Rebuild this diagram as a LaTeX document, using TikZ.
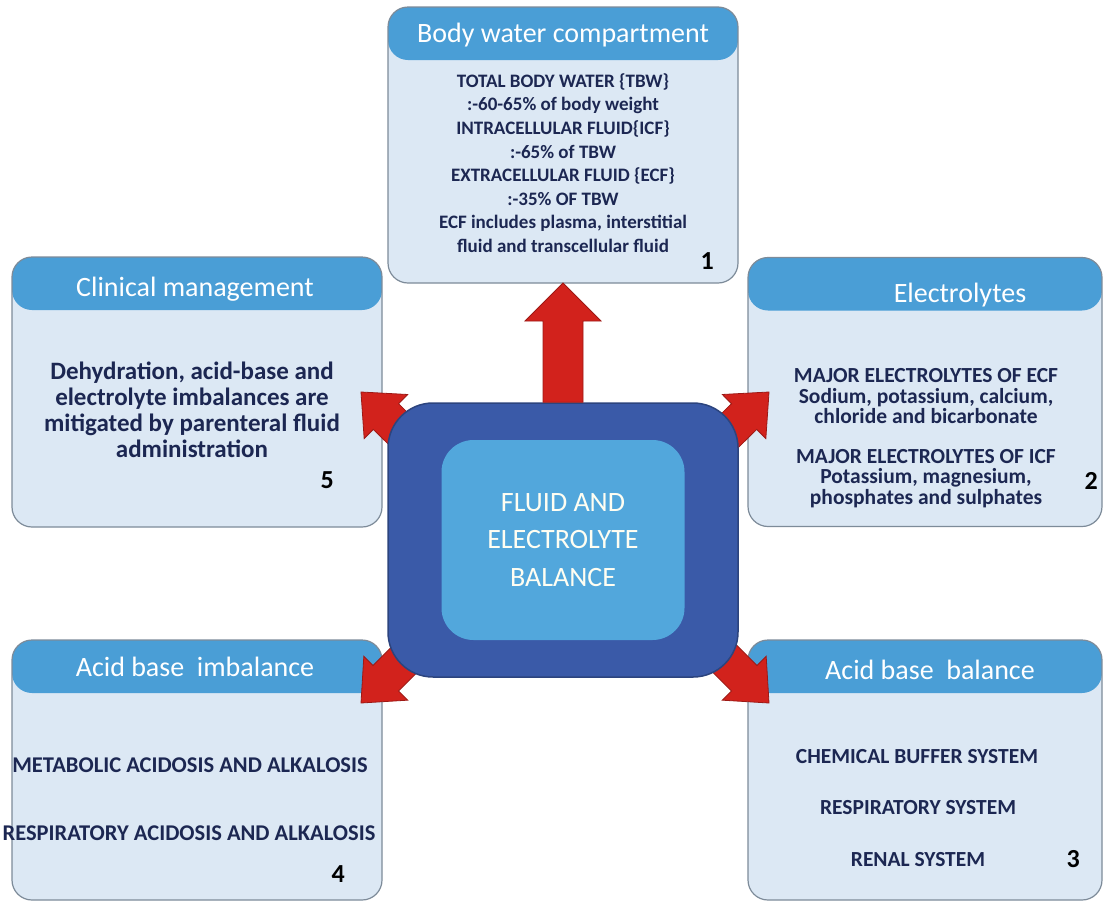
\documentclass[tikz,border=0pt]{standalone}
\usepackage{fontspec}
\setmainfont{Carlito}
\usetikzlibrary{positioning,calc}

\definecolor{headblue}{HTML}{4A9ED6}
\definecolor{paleblue}{HTML}{DCE8F4}
\definecolor{edgegray}{HTML}{7D8B99}
\definecolor{navytext}{HTML}{1C2752}
\definecolor{darkblue}{HTML}{3A5AA8}
\definecolor{midblue}{HTML}{52A7DC}
\definecolor{arrowred}{HTML}{D2221C}

% block arrow: from, to, shaft half width, head half width, head length
\newcommand{\blockarrow}[5]{%
\filldraw[bigarrow] (#2) -- ($(#2)!#5!(#1)!#4!90:(#1)$) -- ($(#2)!#5!(#1)!#3!90:(#1)$)
  -- ($(#1)!#3!-90:(#2)$) -- ($(#1)!#3!90:(#2)$)
  -- ($(#2)!#5!(#1)!#3!-90:(#1)$) -- ($(#2)!#5!(#1)!#4!-90:(#1)$) -- cycle;}

\begin{document}
\begin{tikzpicture}[x=1pt, y=-1pt,
panel/.style={rectangle, rounded corners=20pt, draw=edgegray, line width=1.2pt, fill=paleblue, inner sep=0pt, outer sep=0pt,
  path picture={\fill[headblue] (path picture bounding box.north west) rectangle ([yshift=-53pt]path picture bounding box.north east);}},
headtext/.style={text=white, font=\fontsize{28}{30}\selectfont, inner sep=0pt},
bodytext/.style={align=center, text=navytext, inner sep=0pt},
numtext/.style={text=black, font=\bfseries\fontsize{26}{26}\selectfont, inner sep=0pt},
bigarrow/.style={fill=arrowred, draw=arrowred!75!black, line width=0.8pt, line join=miter},
outerbox/.style={rectangle, rounded corners=45pt, fill=darkblue, draw=darkblue!75!black, line width=1.5pt, minimum width=350pt, minimum height=274pt},
innerbox/.style={rectangle, rounded corners=32pt, fill=midblue, minimum width=243pt, minimum height=200pt, align=center, text=white!95!yellow, font=\fontsize{28}{37.5}\selectfont},
]
\useasboundingbox (0,0) rectangle (1105,908);

%Nodes
\node[panel, minimum width=350pt, minimum height=276pt] (box1) at (563,145) {};
\node[headtext] (title1) at (563,35) {Body water compartment};
\node[bodytext, font=\bfseries\fontsize{19}{23.6}\selectfont] (body1) at (563,163) {TOTAL BODY WATER \{TBW\}\\
        :-60-65\% of body weight\\
        INTRACELLULAR FLUID\{ICF\}\\
        :-65\% of TBW\\
        EXTRACELLULAR FLUID \{ECF\}\\
        :-35\% OF TBW\\
        ECF includes plasma, interstitial\\
        fluid and transcellular fluid};
\node[numtext] (num1) [above left=13pt and 24pt of box1.south east] {1};

\node[panel, minimum width=370pt, minimum height=270pt] (box5) at (197,392) {};
\node[headtext] (title5) at (195,289) {Clinical management};
\node[bodytext, font=\bfseries\fontsize{25}{26}\selectfont] (body5) at (192,410) {Dehydration, acid-base and\\
        electrolyte imbalances are\\
        mitigated by parenteral fluid\\
        administration};
\node[numtext] (num5) [above left=38pt and 48pt of box5.south east] {5};

\node[panel, minimum width=354pt, minimum height=269pt] (box2) at (925,392) {};
\node[headtext] (title2) at (960,295) {Electrolytes};
\node[bodytext, font=\bfseries\fontsize{21.5}{20.5}\selectfont] (body2) at (926,438) {MAJOR ELECTROLYTES OF ECF\\
        Sodium, potassium, calcium,\\
        chloride and bicarbonate\\[19pt]
        MAJOR ELECTROLYTES OF ICF\\
        Potassium, magnesium,\\
        phosphates and sulphates};
\node[numtext] (num2) [above left=37pt and 4pt of box2.south east] {2};

\node[panel, minimum width=370pt, minimum height=260pt] (box4) at (197,770) {};
\node[headtext] (title4) at (195,667) {Acid base\ \ imbalance};
\node[bodytext, font=\bfseries\fontsize{22.5}{22}\selectfont] (meta) at (190,765) {METABOLIC ACIDOSIS AND ALKALOSIS};
\node[bodytext, font=\bfseries\fontsize{22.5}{22}\selectfont] (resp) at (189,833) {RESPIRATORY ACIDOSIS AND ALKALOSIS};
\node[numtext] (num4) [above left=17pt and 37pt of box4.south east] {4};

\node[panel, minimum width=354pt, minimum height=260pt] (box3) at (925,770) {};
\node[headtext] (title3) at (930,670) {Acid base\ \ balance};
\node[bodytext, font=\bfseries\fontsize{21.5}{21}\selectfont] (chem) at (917,757) {CHEMICAL BUFFER SYSTEM};
\node[bodytext, font=\bfseries\fontsize{21.5}{21}\selectfont] (respsys) at (918,808) {RESPIRATORY SYSTEM};
\node[bodytext, font=\bfseries\fontsize{21.5}{21}\selectfont] (renal) at (918,860) {RENAL SYSTEM};
\node[numtext] (num3) [above left=32pt and 22pt of box3.south east] {3};

\coordinate (foot5) at (430,460);
\coordinate (tip5) at (361,392);
\coordinate (foot2) at (700,460);
\coordinate (tip2) at (769,392);
\coordinate (foot4) at (430,634);
\coordinate (tip4) at (361,703);
\coordinate (foot3) at (700,634);
\coordinate (tip3) at (769,703);

%Lines
\blockarrow{foot5}{tip5}{18pt}{31pt}{35pt}
\blockarrow{foot2}{tip2}{18pt}{31pt}{35pt}
\blockarrow{foot4}{tip4}{18pt}{31pt}{35pt}
\blockarrow{foot3}{tip3}{18pt}{31pt}{35pt}

\node[outerbox] (outer) at (563,540) {};
\blockarrow{outer.north}{box1.south}{20pt}{38pt}{38pt}
\node[innerbox] (inner) at (563,540) {FLUID AND\\ELECTROLYTE\\BALANCE};

\end{tikzpicture}
\end{document}
